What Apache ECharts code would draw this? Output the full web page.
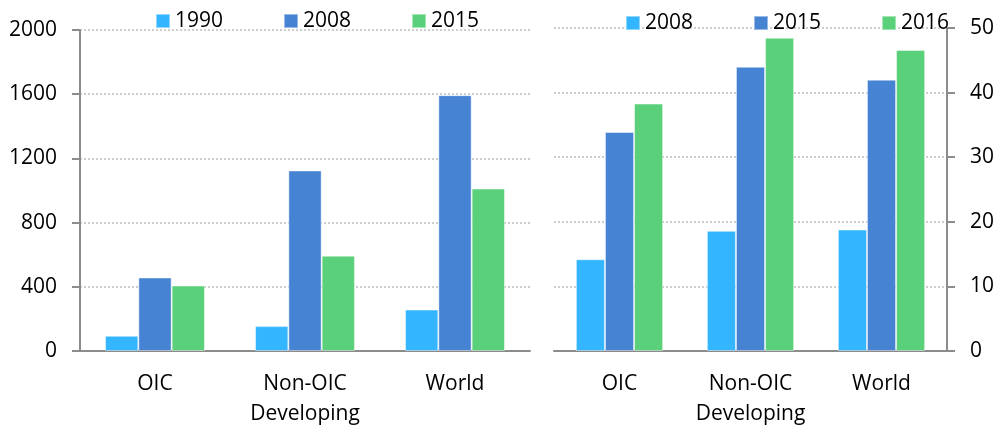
<!DOCTYPE html>
<html>
<head>
<meta charset="utf-8">
<script src="https://cdn.jsdelivr.net/npm/echarts@6/dist/echarts.min.js"></script>
<style>
  html, body { margin: 0; padding: 0; background: #fff; }
  #chart { width: 1002px; height: 425px; }
</style>
</head>
<body>
<div id="chart"></div>
<script>
// categories shared by both panels
const categories = ["OIC", "Non-OIC\nDeveloping", "World"];

// left panel (0 - 2000)
const leftYears = ["1990", "2008", "2015"];
const left1990 = [95, 155, 258];
const left2008 = [458, 1125, 1594];
const left2015 = [408, 594, 1012];

// right panel (0 - 50)
const rightYears = ["2008", "2015", "2016"];
const right2008 = [14.2, 18.6, 18.8];
const right2015 = [33.9, 44.0, 42.0];
const right2016 = [38.3, 48.5, 46.6];

const colors = ["#33b6ff", "#4683d3", "#5ad07a"];
const font = "'Open Sans', 'Noto Sans', sans-serif";
const axisGray = "#8c8c8c";

const chart = echarts.init(document.getElementById("chart"));

function xAxis(gridIndex) {
  return {
    type: "category",
    gridIndex: gridIndex,
    data: categories,
    axisLine: { lineStyle: { color: axisGray, width: 2 } },
    axisTick: { length: 7, lineStyle: { color: axisGray, width: 2 } },
    axisLabel: {
      interval: 0,
      margin: 18,
      color: "#000",
      fontFamily: font,
      fontSize: 21,
      lineHeight: 30,
    },
  };
}

function yAxis(gridIndex, max, interval, position) {
  return {
    type: "value",
    gridIndex: gridIndex,
    position: position,
    min: 0,
    max: max,
    interval: interval,
    axisLine: { show: true, lineStyle: { color: axisGray, width: 2 } },
    axisTick: { show: true, length: 8, lineStyle: { color: axisGray, width: 2 } },
    axisLabel: {
      margin: 23,
      color: "#000",
      fontFamily: font,
      fontSize: 21,
      formatter: (v) => String(v),
    },
    splitLine: { lineStyle: { color: "#bdbdbd", type: [2, 2], width: 1.5 } },
  };
}

function bar(name, data, color, axisIndex) {
  return {
    name: name,
    type: "bar",
    xAxisIndex: axisIndex,
    yAxisIndex: axisIndex,
    data: data,
    barGap: "0%",
    barCategoryGap: "33.4%",
    itemStyle: { color: color, borderColor: "rgba(255,255,255,0.45)", borderWidth: 1 },
  };
}

const legendBase = {
  orient: "horizontal",
  itemWidth: 14,
  itemHeight: 14,
  itemGap: 60,
  icon: "rect",
  padding: 0,
  textStyle: { color: "#000", fontFamily: font, fontSize: 21, lineHeight: 24 },
  formatter: (name) => name.split(" ")[1],
};

chart.setOption({
  animation: false,
  grid: [
    { left: 80, top: 30, width: 450, height: 321, outerBoundsMode: "none", containLabel: false },
    { left: 554, top: 28, width: 393, height: 323, outerBoundsMode: "none", containLabel: false },
  ],
  legend: [
    Object.assign({}, legendBase, { left: 155, top: 9, data: leftYears.map((y) => "L " + y) }),
    Object.assign({}, legendBase, { left: 625, top: 11, data: rightYears.map((y) => "R " + y) }),
  ],
  xAxis: [xAxis(0), xAxis(1)],
  yAxis: [yAxis(0, 2000, 400, "left"), yAxis(1, 50, 10, "right")],
  series: [
    bar("L " + leftYears[0], left1990, colors[0], 0),
    bar("L " + leftYears[1], left2008, colors[1], 0),
    bar("L " + leftYears[2], left2015, colors[2], 0),
    bar("R " + rightYears[0], right2008, colors[0], 1),
    bar("R " + rightYears[1], right2015, colors[1], 1),
    bar("R " + rightYears[2], right2016, colors[2], 1),
  ],
});
</script>
</body>
</html>
